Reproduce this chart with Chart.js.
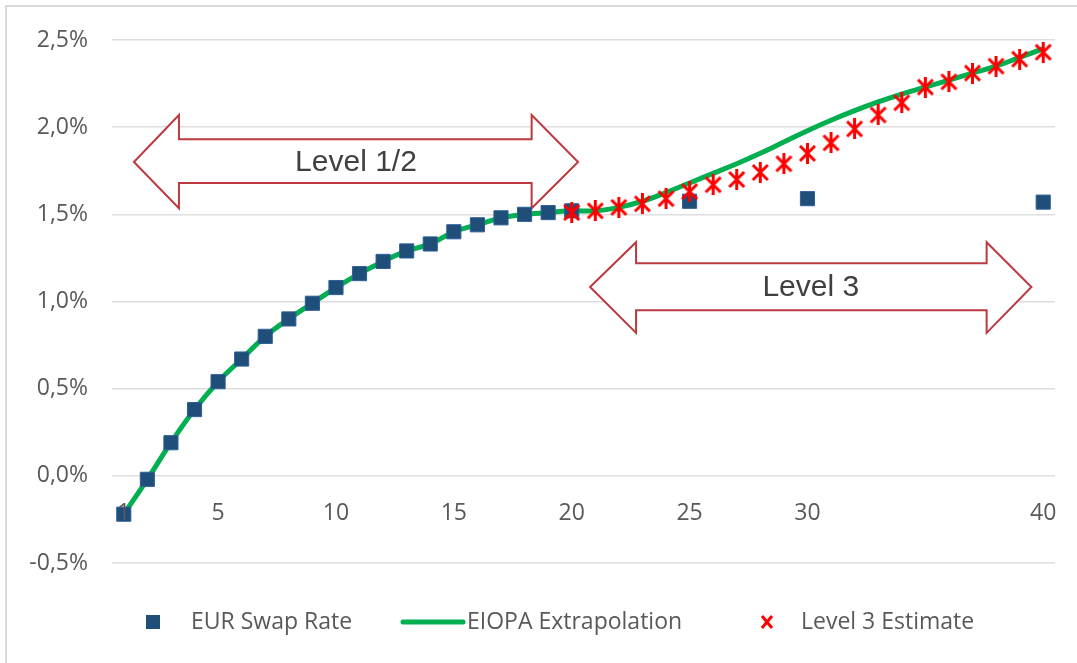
<!DOCTYPE html>
<html>
<head>
<meta charset="utf-8">
<script src="https://cdn.jsdelivr.net/npm/chart.js@4.4.1/dist/chart.umd.min.js"></script>
<style>
  html, body { margin: 0; padding: 0; background: #fff; }
  #wrap { position: relative; width: 1077px; height: 663px; overflow: hidden; }
  #frame { position: absolute; left: 5px; top: 5px; width: 1100px; height: 700px;
           border-left: 2px solid #d9d9d9; border-top: 2px solid #d9d9d9; pointer-events: none; }
  canvas { position: absolute; left: 0; top: 0; }
</style>
</head>
<body>
<div id="wrap">
  <canvas id="chart" width="1077" height="663"></canvas>
  <div id="frame"></div>
</div>
<script>
// maturities (years) and rates in %
const swapTenors = [1, 2, 3, 4, 5, 6, 7, 8, 9, 10, 11, 12, 13, 14, 15, 16, 17, 18, 19, 20, 25, 30, 40];
const swapRates = [-0.22, -0.02, 0.19, 0.38, 0.54, 0.67, 0.80, 0.90, 0.99, 1.08, 1.16, 1.23, 1.29, 1.33, 1.40, 1.44, 1.48, 1.50, 1.51, 1.52, 1.575, 1.59, 1.57];

const eiopaTenors = [1, 2, 3, 4, 5, 6, 7, 8, 9, 10, 11, 12, 13, 14, 15, 16, 17, 18, 19, 20,
  21, 22, 23, 24, 25, 26, 27, 28, 29, 30, 31, 32, 33, 34, 35, 36, 37, 38, 39, 40];
const eiopaRates = [-0.22, -0.02, 0.19, 0.38, 0.54, 0.67, 0.80, 0.90, 0.99, 1.08, 1.16, 1.23, 1.29, 1.33, 1.40, 1.44, 1.48, 1.50, 1.51, 1.52,
  1.52, 1.54, 1.575, 1.625, 1.68, 1.735, 1.79, 1.85, 1.915, 1.98, 2.04, 2.095, 2.145, 2.19, 2.23, 2.27, 2.31, 2.35, 2.40, 2.45];

const level3Tenors = [20, 21, 22, 23, 24, 25, 26, 27, 28, 29, 30, 31, 32, 33, 34, 35, 36, 37, 38, 39, 40];
const level3Rates = [1.51, 1.52, 1.54, 1.56, 1.59, 1.63, 1.67, 1.70, 1.74, 1.79, 1.85, 1.91, 1.99, 2.07, 2.14, 2.23, 2.26, 2.31, 2.35, 2.39, 2.43];

const xTickLabels = [1, 5, 10, 15, 20, 25, 30, 40];
const yMin = -0.5, yMax = 2.5, yStep = 0.5;

const seriesNames = ["EUR Swap Rate", "EIOPA Extrapolation", "Level 3 Estimate"];

const toPoints = (xs, ys) => xs.map((x, i) => ({ x: x, y: ys[i] }));

// Excel style asterisk marker
function starMarker(w, h, lw) {
  const c = document.createElement("canvas");
  c.width = w; c.height = h;
  const g = c.getContext("2d");
  g.strokeStyle = "#ff0000";
  g.lineWidth = lw;
  g.beginPath();
  g.moveTo(2, 3); g.lineTo(w - 2, h - 3);
  g.moveTo(w - 2, 3); g.lineTo(2, h - 3);
  g.moveTo(w / 2, 0); g.lineTo(w / 2, h);
  g.stroke();
  return c;
}

const TEXT = "#595959";
const FONT = "'Open Sans', sans-serif";

// the two outlined double arrows, in axis units
const arrows = [
  { label: "Level 1/2", x0: 1.43, xh0: 3.34, xh1: 18.3, x1: 20.27, y: 1.80, headTop: 2.07, headBot: 1.535, shaftTop: 1.93, shaftBot: 1.68 },
  { label: "Level 3", x0: 20.78, xh0: 22.73, xh1: 37.6, x1: 39.5, y: 1.083, headTop: 1.34, headBot: 0.82, shaftTop: 1.22, shaftBot: 0.95 }
];

const arrowPlugin = {
  id: "arrows",
  beforeDatasetsDraw(chart) {
    const { ctx, scales: { x, y } } = chart;
    ctx.save();
    arrows.forEach(a => {
      const X = v => x.getPixelForValue(v), Y = v => y.getPixelForValue(v);
      ctx.beginPath();
      ctx.moveTo(X(a.x0), Y(a.y));
      ctx.lineTo(X(a.xh0), Y(a.headTop));
      ctx.lineTo(X(a.xh0), Y(a.shaftTop));
      ctx.lineTo(X(a.xh1), Y(a.shaftTop));
      ctx.lineTo(X(a.xh1), Y(a.headTop));
      ctx.lineTo(X(a.x1), Y(a.y));
      ctx.lineTo(X(a.xh1), Y(a.headBot));
      ctx.lineTo(X(a.xh1), Y(a.shaftBot));
      ctx.lineTo(X(a.xh0), Y(a.shaftBot));
      ctx.lineTo(X(a.xh0), Y(a.headBot));
      ctx.closePath();
      ctx.fillStyle = "#ffffff";
      ctx.fill();
      ctx.strokeStyle = "#bb3a3f";
      ctx.lineWidth = 2;
      ctx.lineJoin = "miter";
      ctx.stroke();
      ctx.fillStyle = "#404040";
      ctx.font = "30px 'Liberation Sans', Arial, sans-serif";
      ctx.textAlign = "center";
      ctx.textBaseline = "middle";
      ctx.fillText(a.label, (X(a.x0) + X(a.x1)) / 2, Y(a.y) + 1);
    });
    ctx.restore();
  }
};

const legendPlugin = {
  id: "bottomLegend",
  afterDraw(chart) {
    const ctx = chart.ctx;
    const cy = 622;
    ctx.save();
    ctx.font = "23px " + FONT;
    ctx.fillStyle = TEXT;
    ctx.textBaseline = "middle";
    ctx.textAlign = "left";
    // square
    ctx.fillStyle = "#1f4e79";
    ctx.fillRect(146, cy - 7, 14, 14);
    ctx.fillStyle = TEXT;
    ctx.fillText(seriesNames[0], 191, cy);
    // line
    ctx.strokeStyle = "#00b050";
    ctx.lineWidth = 5;
    ctx.lineCap = "round";
    ctx.beginPath(); ctx.moveTo(403, cy); ctx.lineTo(463, cy); ctx.stroke();
    ctx.fillText(seriesNames[1], 467, cy);
    // x
    ctx.strokeStyle = "#ff0000";
    ctx.lineWidth = 3;
    ctx.lineCap = "butt";
    ctx.beginPath();
    ctx.moveTo(762, cy - 6); ctx.lineTo(772, cy + 6);
    ctx.moveTo(772, cy - 6); ctx.lineTo(762, cy + 6);
    ctx.stroke();
    ctx.fillText(seriesNames[2], 801, cy);
    ctx.restore();
  }
};

new Chart(document.getElementById("chart"), {
  type: "line",
  data: {
    datasets: [
      {
        label: seriesNames[2],
        data: toPoints(level3Tenors, level3Rates),
        showLine: false,
        pointStyle: starMarker(19, 21, 3),
        pointRadius: 10,
        order: 0
      },
      {
        label: seriesNames[0],
        data: toPoints(swapTenors, swapRates),
        showLine: false,
        pointStyle: "rect",
        pointRadius: 10,
        pointBackgroundColor: "#1f4e79",
        pointBorderColor: "#2f5f99",
        pointBorderWidth: 1,
        order: 1
      },
      {
        label: seriesNames[1],
        data: toPoints(eiopaTenors, eiopaRates),
        borderColor: "#00b050",
        borderWidth: 5,
        pointRadius: 0,
        tension: 0.4,
        order: 2
      }
    ]
  },
  options: {
    responsive: false,
    animation: false,
    layout: { padding: { left: 0, right: 22, top: 40, bottom: 100 } },
    plugins: { legend: { display: false }, tooltip: { enabled: false } },
    scales: {
      x: {
        type: "linear",
        min: 0.5,
        max: 40.5,
        position: { y: 0 },
        grid: { display: false },
        border: { display: false },
        afterFit(scale) { scale.height = 0; },
        afterBuildTicks(scale) { scale.ticks = xTickLabels.map(v => ({ value: v })); },
        ticks: {
          z: 1,
          autoSkip: false,
          maxRotation: 0,
          padding: 16,
          color: TEXT,
          font: { family: FONT, size: 23 },
          callback: v => String(v)
        }
      },
      y: {
        min: yMin,
        max: yMax,
        afterFit(scale) { scale.width = 112; },
        grid: { color: "#dedede", lineWidth: 1.5, drawTicks: false },
        border: { display: false },
        ticks: {
          stepSize: yStep,
          padding: 24,
          color: TEXT,
          font: { family: FONT, size: 23 },
          callback: v => v.toFixed(1).replace(".", ",") + "%"
        }
      }
    }
  },
  plugins: [arrowPlugin, legendPlugin]
});
</script>
</body>
</html>
